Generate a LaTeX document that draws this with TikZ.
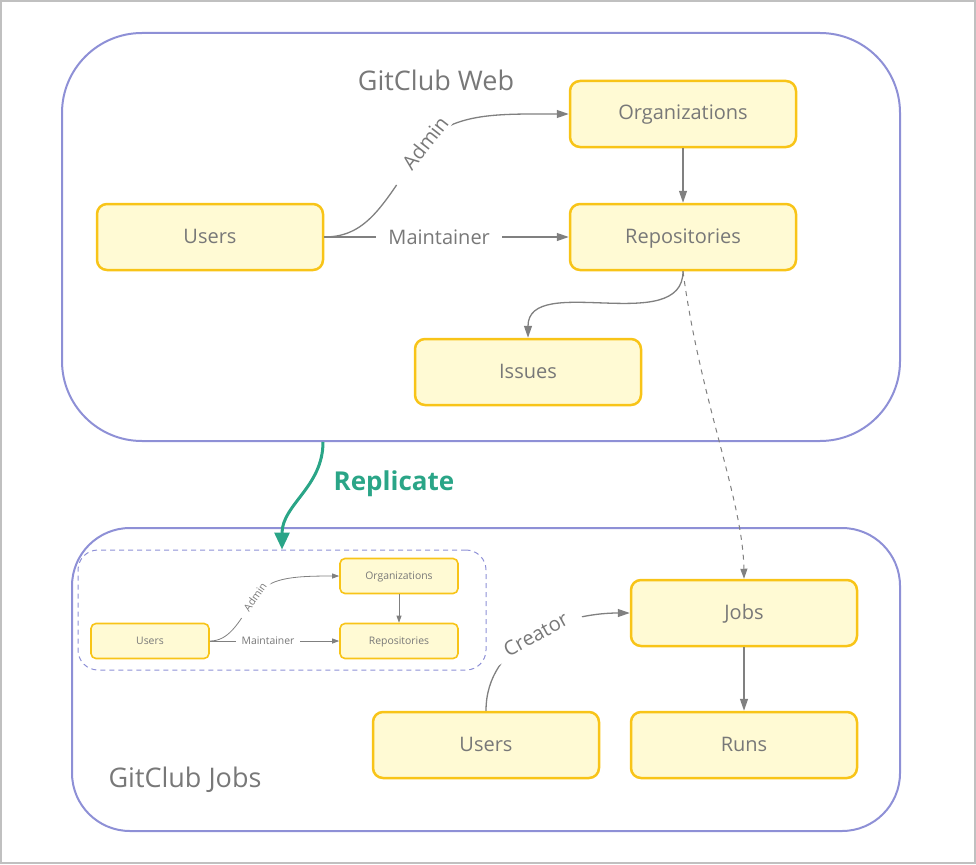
\documentclass[tikz,border=0pt]{standalone}
\usepackage{fontspec}
\setmainfont{Open Sans}
\usepackage{xcolor}
\usetikzlibrary{arrows.meta}
\usetikzlibrary{math}
\definecolor{mygold}{RGB}{248,196,24}
\definecolor{myfill}{RGB}{255,250,212}
\definecolor{mylav}{RGB}{142,144,214}
\definecolor{mygray}{RGB}{120,120,120}
\definecolor{myline}{RGB}{128,128,128}
\definecolor{myteal}{RGB}{42,165,135}
\definecolor{myframe}{RGB}{192,192,192}

\tikzset{
  entity/.style={draw=mygold, fill=myfill, line width=2.5pt, rounded corners=10pt,
    minimum width=226pt, minimum height=66pt, text=mygray, text height=16pt, text depth=4pt,
    font=\fontsize{20}{24}\selectfont},
  minientity/.style={draw=mygold, fill=myfill, line width=1.6pt, rounded corners=5pt,
    minimum width=118pt, minimum height=35pt, text=mygray, text height=8pt, text depth=2pt,
    font=\fontsize{10.4}{12}\selectfont},
  flow/.style={draw=myline, line width=1.3pt, -{Triangle[length=12pt,width=8pt]}},
  miniflow/.style={draw=myline, line width=0.8pt, -{Triangle[length=7pt,width=5pt]}},
  elabel/.style={fill=white, text=mygray, inner xsep=12pt, inner ysep=2pt, font=\fontsize{20}{24}\selectfont},
  minilabel/.style={fill=white, text=mygray, inner xsep=6pt, inner ysep=1pt, font=\fontsize{10.4}{12}\selectfont},
  title/.style={text=mygray, font=\fontsize{27}{32}\selectfont},
}

\begin{document}
\begin{tikzpicture}[x=1pt,y=1pt]
\tikzmath{
\W=838;
\H=408;
\Wj=828;
\Hj=303;
}
\useasboundingbox (0,0) rectangle (976,-864);
\draw[myframe, line width=2pt] (1,-1) rectangle (975,-863);

% containers
\node[draw=mylav, line width=2pt, rounded corners=80pt, minimum width=\W pt, minimum height=\H pt] (web) at (481,-237) {};
\node[draw=mylav, line width=2pt, rounded corners=58pt, minimum width=\Wj pt, minimum height=\Hj pt] (jobsbox) at (486,-679.5) {};
\node[draw=mylav, line width=1pt, dashed, dash pattern=on 5pt off 4pt, rounded corners=20pt, minimum width=408pt, minimum height=120pt] (mini) at (282,-610) {};

\node[title] (webtitle) at (436,-80) {GitClub Web};
\node[title] (jobstitle) at (185,-780) {GitClub Jobs};

% web side
\node[entity] (org) at (683,-114) {Organizations};
\node[entity] (repo) at (683,-237) {Repositories};
\node[entity] (users) at (210,-237) {Users};
\node[entity] (issues) at (528,-372) {Issues};

\draw[flow] (users.east) .. controls (370,-237) and (385,-200) .. (425,-143) .. controls (455,-112) and (500,-114) .. (org.west);
\node[elabel, rotate=52, inner xsep=20pt] (admin) at (425,-143) {Admin};
\draw[flow] (users.east) -- node[elabel, pos=0.47] (maint) {Maintainer} (repo.west);
\draw[flow] (org.south) -- (repo.north);
\draw[flow] (repo.south) to[out=-90,in=90] (issues.north);

% jobs side
\node[entity] (jobs) at (744,-613) {Jobs};
\node[entity] (runs) at (744,-745) {Runs};
\node[entity] (cusers) at (486,-745) {Users};

\draw[flow] (cusers.north) to[out=90,in=180] node[elabel, sloped, pos=0.52, inner xsep=14pt] (creator) {Creator} (jobs.west);
\draw[flow] (jobs.south) -- (runs.north);
\draw[myline, line width=1pt, dashed, dash pattern=on 5pt off 5pt, -{Triangle[length=10pt,width=7pt]}]
  (repo.south) .. controls (700,-400) and (743,-500) .. (jobs.north);

% replicated copy
\node[minientity] (morg) at (399,-576) {Organizations};
\node[minientity] (mrepo) at (399,-641) {Repositories};
\node[minientity] (musers) at (150,-641) {Users};

\draw[miniflow] (musers.east) .. controls (228,-641) and (238,-625) .. (254,-598) .. controls (268,-578) and (290,-576) .. (morg.west);
\node[minilabel, rotate=55, inner xsep=9pt] (madmin) at (255,-597) {Admin};
\draw[miniflow] (musers.east) -- node[minilabel, pos=0.45] (mmaint) {Maintainer} (mrepo.west);
\draw[miniflow] (morg.south) -- (mrepo.north);

% replicate
\coordinate (repstart) at (323,-442);
\draw[myteal, line width=3pt, -{Triangle[length=17pt,width=15pt]}] (repstart) to[out=-90,in=90] (mini.north);
\node[text=myteal, font=\bfseries\fontsize{26}{30}\selectfont] (repl) at (394,-484) {Replicate};
\end{tikzpicture}
\end{document}
